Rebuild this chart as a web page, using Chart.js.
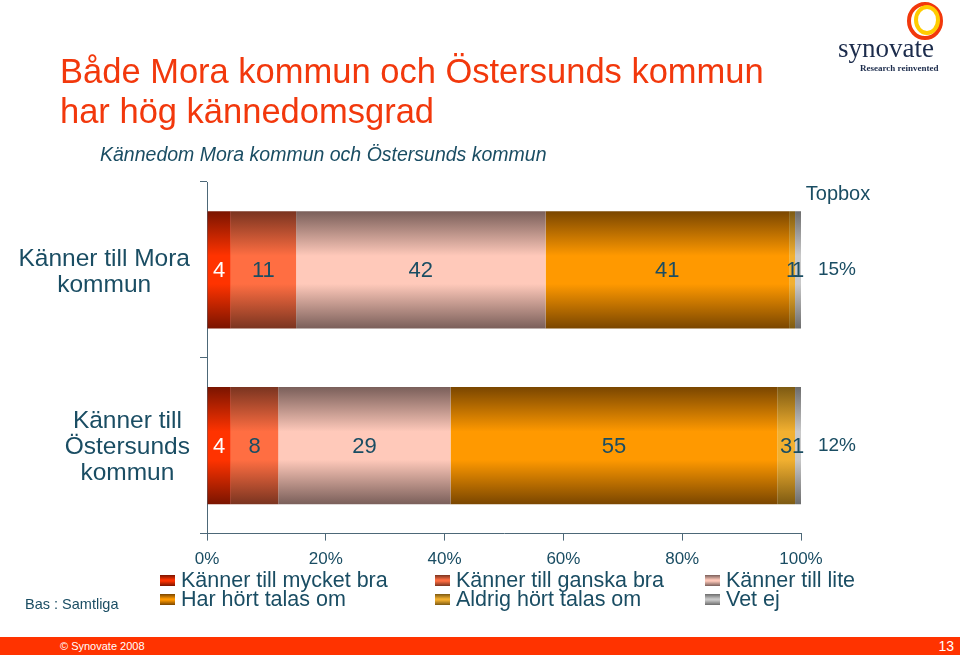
<!DOCTYPE html>
<html>
<head>
<meta charset="utf-8">
<script src="https://cdn.jsdelivr.net/npm/chart.js@4/dist/chart.umd.min.js"></script>
<style>
  body { margin: 0; width: 960px; height: 658px; position: relative; overflow: hidden; background: #fff; font-family: "Liberation Sans", Arial, sans-serif; }
  #c { position: absolute; left: 0; top: 0; }
  .abs { position: absolute; white-space: nowrap; }
  .title { left: 60px; top: 51px; color: #f2380c; font-size: 34.5px; line-height: 40px; }
  .sub { left: 100px; top: 143px; color: #1a4d63; font-size: 19.5px; font-style: italic; }
  .leg { font-size: 21.5px; color: #1a4d63; line-height: 19px; }
  .leg i { display: inline-block; width: 15px; height: 11px; margin-right: 6px; vertical-align: 1px; }
  .bas { left: 25px; top: 596px; font-size: 14.5px; color: #1a4d63; }
  .foot { left: 0; top: 637px; width: 960px; height: 18px; background: #ff3300; color: #fff; }
</style>
</head>
<body>
<canvas id="c" width="960" height="658"></canvas>

<div class="abs title">Både Mora kommun och Östersunds kommun<br>har hög kännedomsgrad</div>
<div class="abs sub">Kännedom Mora kommun och Östersunds kommun</div>
<div id="legend"></div>
<div class="abs bas">Bas : Samtliga</div>
<div class="abs foot">
  <span class="abs" style="left:60px;top:3px;font-size:11px;">© Synovate 2008</span>
  <span class="abs" style="right:6px;top:1px;font-size:14px;">13</span>
</div>

<svg class="abs" style="left:830px;top:0" width="130" height="80">
  <ellipse cx="95" cy="21" rx="16" ry="17" fill="none" stroke="#f2380c" stroke-width="4"/>
  <ellipse cx="97" cy="20" rx="11" ry="13" fill="none" stroke="#ffcc00" stroke-width="4"/>
  <text x="8" y="57" font-family="Liberation Serif, serif" font-size="27" fill="#1c2c4c">synovate</text>
  <text x="30" y="71" font-family="Liberation Serif, serif" font-size="9" font-weight="bold" fill="#1c2c4c">Research reinvented</text>
</svg>

<script>
// data
var categories = [["Känner till Mora", "kommun"], ["Känner till", "Östersunds", "kommun"]];
var seriesNames = ["Känner till mycket bra", "Känner till ganska bra", "Känner till lite",
                   "Har hört talas om", "Aldrig hört talas om", "Vet ej"];
var mycketBra = [4, 4];
var ganskaBra = [11, 8];
var lite = [42, 29];
var hortTalas = [41, 55];
var aldrigHort = [1, 3];
var vetEj = [1, 1];
var topbox = ["15%", "12%"];
var xTicks = ["0%", "20%", "40%", "60%", "80%", "100%"];

var seriesValues = [mycketBra, ganskaBra, lite, hortTalas, aldrigHort, vetEj];
// [edge, center] colours of the shaded bars
var shades = [
  ["#7a1400", "#ff3300"],
  ["#7a3420", "#ff6e42"],
  ["#7a5f5a", "#ffc9ba"],
  ["#7a4600", "#ff9900"],
  ["#7d5a12", "#f2b030"],
  ["#6c6c6c", "#c9c9c9"]
];
var textColor = "#1a4d63";
var CAT_PCT = 0.667;
var FONT = "'Liberation Sans', Arial, sans-serif";

function barFill(i) {
  return function(ctx) {
    var chart = ctx.chart;
    if (!chart.chartArea || !chart.scales.y) return shades[i][1];
    var y = chart.scales.y;
    var mid = y.getPixelForValue(ctx.dataIndex);
    var half = y.height / categories.length * CAT_PCT / 2;
    var g = chart.ctx.createLinearGradient(0, mid - half, 0, mid + half);
    g.addColorStop(0, shades[i][0]);
    g.addColorStop(0.38, shades[i][1]);
    g.addColorStop(0.62, shades[i][1]);
    g.addColorStop(1, shades[i][0]);
    return g;
  };
}

// legend (3 columns, 2 rows)
var legendHtml = "";
var colX = [160, 435, 705];
for (var s = 0; s < seriesNames.length; s++) {
  var col = s % 3, row = Math.floor(s / 3);
  var sw = "linear-gradient(" + shades[s][0] + "," + shades[s][1] + " 45%," + shades[s][1] + " 55%," + shades[s][0] + ")";
  legendHtml += '<div class="abs leg" style="left:' + colX[col] + 'px;top:' + (571 + row * 19) + 'px">' +
    '<i style="background:' + sw + '"></i>' + seriesNames[s] + '</div>';
}
document.getElementById("legend").innerHTML = legendHtml;

var labelsPlugin = {
  id: "labels",
  afterDatasetsDraw: function(chart) {
    var c = chart.ctx;
    c.save();
    c.font = "22px " + FONT;
    c.textAlign = "center";
    c.textBaseline = "middle";
    chart.data.datasets.forEach(function(ds, di) {
      chart.getDatasetMeta(di).data.forEach(function(bar, i) {
        c.fillStyle = di === 0 ? "#ffffff" : textColor;
        c.fillText(String(ds.data[i]), (bar.x + bar.base) / 2, bar.y + 1);
      });
    });
    // topbox
    var ca = chart.chartArea, y = chart.scales.y;
    c.font = "20px " + FONT;
    c.fillStyle = textColor;
    c.fillText("Topbox", ca.right + 37, ca.top + 12);
    c.font = "19px " + FONT;
    topbox.forEach(function(t, i) {
      c.fillText(t, ca.right + 36, y.getPixelForValue(i));
    });
    // category labels, block right aligned, lines centred
    c.font = "24.5px " + FONT;
    categories.forEach(function(lines, i) {
      var w = 0;
      lines.forEach(function(l) { w = Math.max(w, c.measureText(l).width); });
      var cx = ca.left - 17 - w / 2;
      var mid = y.getPixelForValue(i);
      var lh = 26;
      lines.forEach(function(l, k) {
        c.fillText(l, cx, mid + 2 + (k - (lines.length - 1) / 2) * lh);
      });
    });
    c.restore();
  }
};

new Chart(document.getElementById("c"), {
  type: "bar",
  data: {
    labels: categories,
    datasets: seriesNames.map(function(n, i) {
      return { label: n, data: seriesValues[i], backgroundColor: barFill(i), borderWidth: 0,
               categoryPercentage: CAT_PCT, barPercentage: 1 };
    })
  },
  options: {
    indexAxis: "y",
    responsive: false,
    animation: false,
    layout: { padding: { left: 200, right: 159, top: 182, bottom: 79 } },
    plugins: { legend: { display: false }, tooltip: { enabled: false } },
    scales: {
      x: {
        stacked: true, min: 0, max: 100,
        ticks: { stepSize: 20, color: textColor, padding: 9, maxRotation: 0,
                 font: { size: 17, family: FONT },
                 callback: function(v, idx) { return xTicks[idx]; } },
        grid: { drawOnChartArea: false, drawTicks: true, tickLength: 7, color: "#4d6878" },
        border: { color: "#4d6878", width: 1 }
      },
      y: {
        stacked: true,
        ticks: { display: false },
        grid: { drawOnChartArea: false, drawTicks: true, tickLength: 7, offset: true, color: "#4d6878" },
        border: { color: "#4d6878", width: 1 }
      }
    }
  },
  plugins: [labelsPlugin]
});
</script>
</body>
</html>
